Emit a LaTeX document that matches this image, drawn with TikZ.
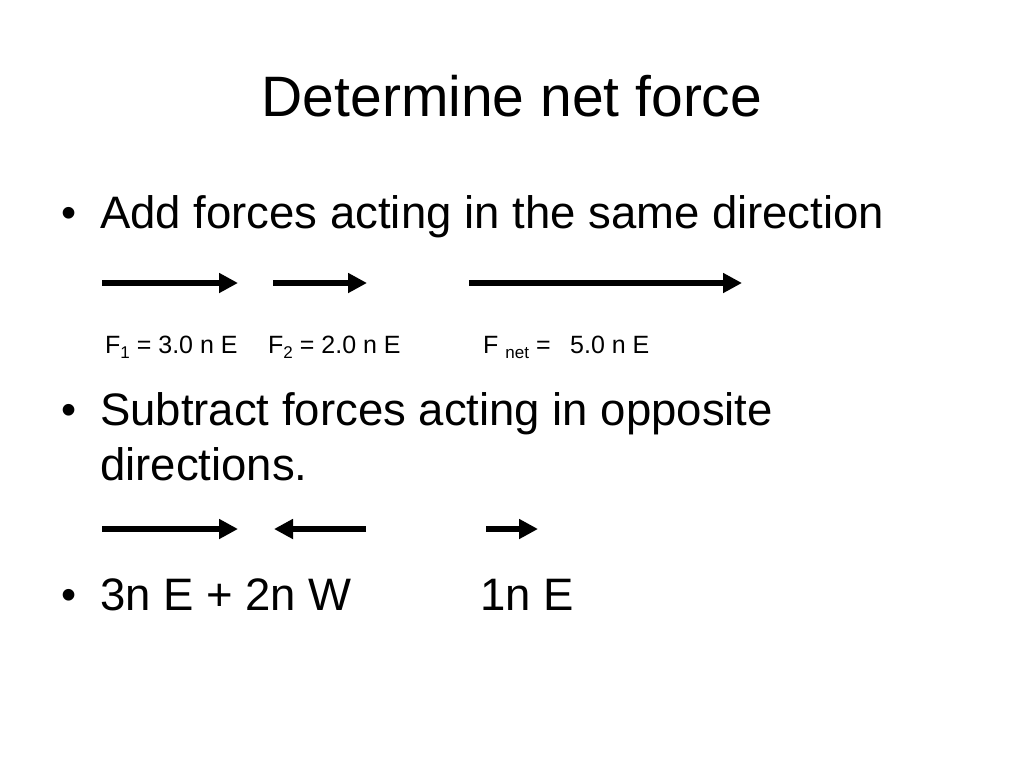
\documentclass[tikz,border=0pt]{standalone}
\usepackage{fontspec}
\setmainfont{Liberation Sans}
\usepackage{tikz}
\usetikzlibrary{arrows.meta}

\newcommand{\subtxt}[1]{{\fontsize{17}{17}\selectfont\raisebox{-5pt}{#1}}}

\begin{document}
\begin{tikzpicture}[x=1pt,y=-1pt,
  titletext/.style={anchor=base,inner sep=0pt,font=\fontsize{57}{60}\selectfont},
  bullettext/.style={anchor=base west,inner sep=0pt,font=\fontsize{45.5}{50}\selectfont},
  bulletdot/.style={anchor=base,inner sep=0pt,font=\fontsize{43}{45}\selectfont},
  labeltext/.style={anchor=base west,inner sep=0pt,font=\fontsize{25}{27}\selectfont},
  force/.style={line width=5.5pt,-{Triangle[length=19pt,width=19pt]}}]
 \useasboundingbox[fill=white] (0,0) rectangle (1024,768);
 \node[titletext] (title) at (512,116) {Determine net force};
 %first bullet: same direction
 \node[bulletdot] (dotA) at (69,227) {•};
 \node[bullettext] (addtext) at (100,228) {Add forces acting in the same direction};
 \coordinate (f1s) at (102,283);
 \coordinate (f1e) at (238,283);
 \coordinate (f2s) at (273,283);
 \coordinate (f2e) at (367,283);
 \coordinate (fns) at (469,283);
 \coordinate (fne) at (742,283);
 \draw[force] (f1s) -- (f1e);
 \draw[force] (f2s) -- (f2e);
 \draw[force] (fns) -- (fne);
 \node[labeltext] (lab1) at (105,353) {F\subtxt{1} = 3.0 n E};
 \node[labeltext] (lab2) at (268,353) {F\subtxt{2} = 2.0 n E};
 \node[labeltext] (labnet) at (483,353) {F \subtxt{net} =};
 \node[labeltext] (labval) at (570,353) {5.0 n E};
 %second bullet: opposite directions
 \node[bulletdot] (dotB) at (69,424) {•};
 \node[bullettext] (subtext) at (100,425) {Subtract forces acting in opposite};
 \node[bullettext] (subtext2) at (100,480) {directions.};
 \coordinate (g1s) at (102,529);
 \coordinate (g1e) at (238,529);
 \coordinate (g2s) at (366,529);
 \coordinate (g2e) at (274,529);
 \coordinate (gns) at (486,529);
 \coordinate (gne) at (538,529);
 \draw[force] (g1s) -- (g1e);
 \draw[force] (g2s) -- (g2e);
 \draw[force] (gns) -- (gne);
 %third bullet
 \node[bulletdot] (dotC) at (69,609) {•};
 \node[bullettext] (sumtext) at (100,610) {3n E + 2n W};
 \node[bullettext] (restext) at (480,610) {1n E};
\end{tikzpicture}
\end{document}
